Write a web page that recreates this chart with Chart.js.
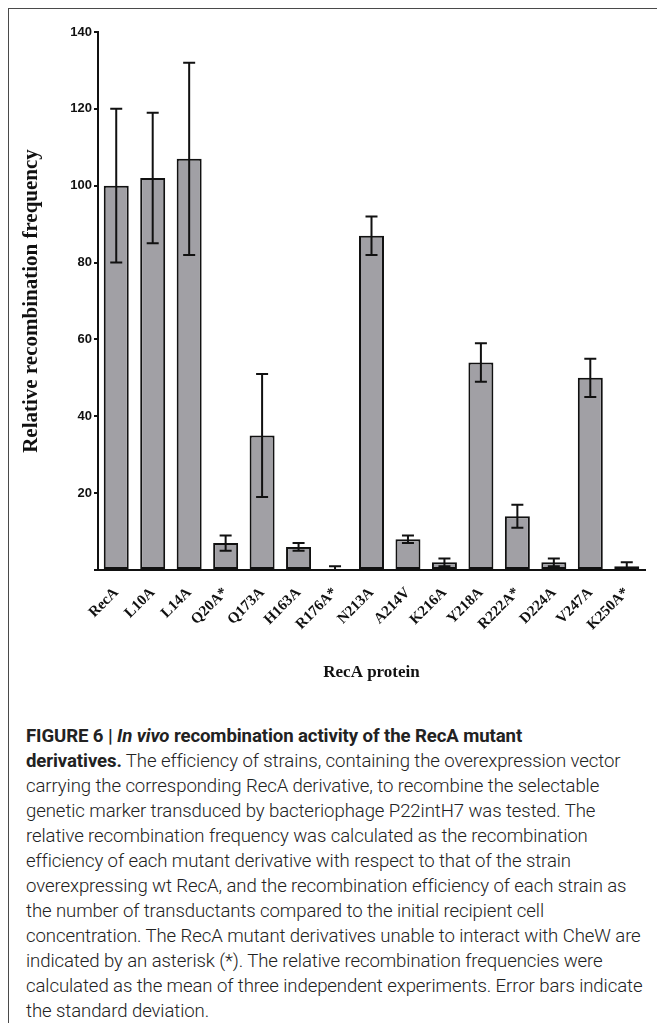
<!DOCTYPE html>
<html>
<head>
<meta charset="utf-8">
<script src="https://cdn.jsdelivr.net/npm/chart.js@4"></script>
<style>
  html, body { margin: 0; padding: 0; background: #fff; }
  body { width: 657px; height: 1023px; position: relative; overflow: hidden; }
  #frame {
    position: absolute; left: 8px; top: 8px; right: -2px; bottom: -2px;
    border-top: 1.5px solid #4a4a4a; border-left: 1.5px solid #4a4a4a;
  }
  #wrap { position: absolute; left: 0; top: 0; width: 657px; height: 690px; }
  #caption {
    position: absolute; left: 26px; top: 724px; width: 630px;
    font-family: Roboto, "Liberation Sans", sans-serif; font-weight: 300;
    font-size: 18.6px; line-height: 25px; color: #222; white-space: nowrap;
    letter-spacing: -0.1px;
  }
  #caption b { font-weight: 700; }
</style>
</head>
<body>
<div id="frame"></div>
<div id="wrap"><canvas id="barChart"></canvas></div>
<div id="caption">
<b>FIGURE 6 | <i>In vivo</i> recombination activity of the RecA mutant</b><br>
<b>derivatives.</b> The efficiency of strains, containing the overexpression vector<br>
carrying the corresponding RecA derivative, to recombine the selectable<br>
genetic marker transduced by bacteriophage P22intH7 was tested. The<br>
relative recombination frequency was calculated as the recombination<br>
efficiency of each mutant derivative with respect to that of the strain<br>
overexpressing wt RecA, and the recombination efficiency of each strain as<br>
the number of transductants compared to the initial recipient cell<br>
concentration. The RecA mutant derivatives unable to interact with CheW are<br>
indicated by an asterisk (*). The relative recombination frequencies were<br>
calculated as the mean of three independent experiments. Error bars indicate<br>
the standard deviation.
</div>
<script>
// Data
const proteins = ["RecA", "L10A", "L14A", "Q20A*", "Q173A", "H163A", "R176A*", "N213A",
                  "A214V", "K216A", "Y218A", "R222A*", "D224A", "V247A", "K250A*"];
const frequency = [100, 102, 107, 7, 35, 6, 0, 87, 8, 2, 54, 14, 2, 50, 1];
const deviation = [20, 17, 25, 2, 16, 1, 1, 5, 1, 1, 5, 3, 1, 5, 1];
const yTicks = [0, 20, 40, 60, 80, 100, 120, 140];

// error bars drawn with the chart's own scales
const errorBars = {
    id: "errorBars",
    afterDatasetsDraw(chart) {
        const ctx = chart.ctx;
        const y = chart.scales.y;
        const meta = chart.getDatasetMeta(0);
        ctx.save();
        ctx.strokeStyle = "#111";
        ctx.lineWidth = 2;
        meta.data.forEach((bar, i) => {
            const top = y.getPixelForValue(frequency[i] + deviation[i]);
            const bottom = y.getPixelForValue(Math.max(0, frequency[i] - deviation[i]));
            const cap = 6;
            ctx.beginPath();
            ctx.moveTo(bar.x, top);
            ctx.lineTo(bar.x, bottom);
            ctx.moveTo(bar.x - cap, top);
            ctx.lineTo(bar.x + cap, top);
            if (frequency[i] - deviation[i] > 0) {
                ctx.moveTo(bar.x - cap, bottom);
                ctx.lineTo(bar.x + cap, bottom);
            }
            ctx.stroke();
        });
        ctx.restore();
    }
};

const ctx = document.getElementById("barChart");

new Chart(ctx, {
    type: "bar",
    data: {
        labels: proteins,
        datasets: [{
            label: "Relative recombination frequency",
            data: frequency,
            backgroundColor: "#a1a0a5",
            borderColor: "#111",
            borderWidth: 2,
            borderSkipped: false,
            categoryPercentage: 1,
            barPercentage: 0.685
        }]
    },
    options: {
        responsive: true,
        maintainAspectRatio: false,
        animation: false,
        layout: { padding: { top: 32, right: 12, left: 0, bottom: 0 } },
        plugins: {
            legend: { display: false },
            tooltip: { enabled: false }
        },
        scales: {
            x: {
                grid: { display: false },
                border: { display: true, color: "#111", width: 2 },
                ticks: {
                    maxRotation: 45, minRotation: 45, padding: 6,
                    color: "#111",
                    font: { family: "'Liberation Serif', 'Times New Roman', serif", weight: "bold", size: 15 }
                },
                title: {
                    display: true, text: "RecA protein", color: "#111",
                    padding: { top: 0, bottom: 7 },
                    font: { family: "'Liberation Serif', 'Times New Roman', serif", weight: "bold", size: 17 }
                },
                afterFit(scale) { scale.height = 120; }
            },
            y: {
                min: 0, max: 140,
                afterBuildTicks(scale) { scale.ticks = yTicks.map(v => ({ value: v })); },
                grid: { drawOnChartArea: false, drawTicks: true, tickLength: 4, color: "#111", lineWidth: 2 },
                border: { display: true, color: "#111", width: 2 },
                ticks: {
                    padding: 2, color: "#111",
                    callback: (v) => v === 0 ? "" : v,
                    font: { family: "'Liberation Sans', Arial, sans-serif", weight: "bold", size: 13 }
                },
                title: {
                    display: true, text: "Relative recombination frequency", color: "#111",
                    padding: { top: 19, bottom: 0 },
                    font: { family: "'Liberation Serif', 'Times New Roman', serif", weight: "bold", size: 21 }
                },
                afterFit(scale) { scale.width = 98; }
            }
        }
    },
    plugins: [errorBars]
});
</script>
</body>
</html>
